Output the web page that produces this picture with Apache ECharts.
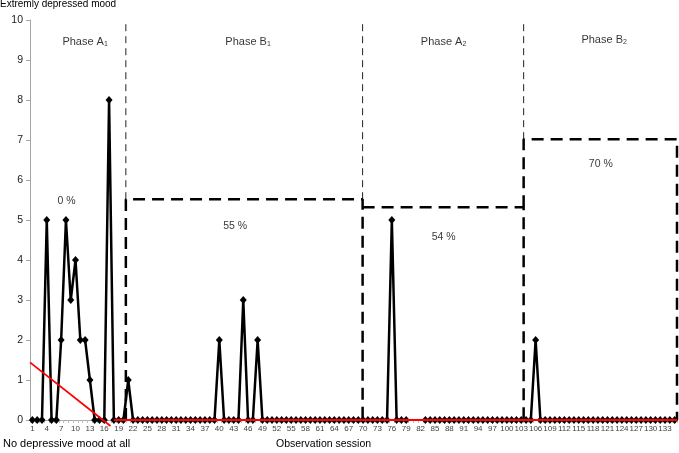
<!DOCTYPE html>
<html>
<head>
<meta charset="utf-8">
<script src="https://cdn.jsdelivr.net/npm/echarts@6/dist/echarts.min.js"></script>
<style>
  html, body { margin: 0; padding: 0; background: #fff; }
  #chart { width: 679px; height: 453px; }
</style>
</head>
<body>
<div id="chart"></div>
<script>
// observation sessions 1..135
var sessions = [];
for (var i = 1; i <= 135; i++) sessions.push(String(i));

// depressed mood score per session (null = not observed)
var mood = [
  0, 0, 0, 5, 0, 0, 2, 5, 3, 4,        // 1-10
  2, 2, 1, 0, 0, 0, 8, 0, 0, 0,        // 11-20
  1, 0, 0, 0, 0, 0, 0, 0, 0, 0,        // 21-30
  0, 0, 0, 0, 0, 0, 0, 0, 0, 2,        // 31-40
  0, 0, 0, 0, 3, 0, 0, 2, 0, 0,        // 41-50
  0, 0, 0, 0, 0, 0, 0, 0, 0, 0,        // 51-60
  0, 0, 0, 0, 0, 0, 0, 0, 0, 0,        // 61-70
  0, 0, 0, 0, 0, 5, 0, 0, 0, null,     // 71-80
  null, null, 0, 0, 0, 0, 0, 0, 0, 0,  // 81-90
  0, 0, 0, 0, 0, 0, 0, 0, 0, 0,        // 91-100
  0, 0, 0, 0, 0, 2, 0, 0, 0, 0,        // 101-110
  0, 0, 0, 0, 0, 0, 0, 0, 0, 0,        // 111-120
  0, 0, 0, 0, 0, 0, 0, 0, 0, 0,        // 121-130
  0, 0, 0, 0, 0                        // 131-135
];

// phase boundaries (in session units) and dashed box heights B1, A2, B2
var phaseEdges = [20.5, 69.9, 103.5, 135.5];
var boxTops = [5.52, 5.32, 7.02];

// red trend lines
var trendA1 = [[0.5, 1.44], [17.3, -0.15]];
var trendRest = [[18, 0], [135.5, 0]];

// annotations
var phaseNames = ['Phase A{s|1}', 'Phase B{s|1}', 'Phase A{s|2}', 'Phase B{s|2}'];
var phasePos = [[12, 9.45], [46, 9.45], [86.8, 9.45], [120.3, 9.5]];
var percentText = ['0 %', '55 %', '54 %', '70 %'];
var percentPos = [[8.1, 5.46], [43.3, 4.85], [86.8, 4.57], [119.6, 6.4]];

var FONT = 'Liberation Sans';

var e = phaseEdges, t = boxTops;
var thick = { color: '#000', width: 2.5, type: [12, 7] };
var thin = { color: '#222', width: 1, type: [7, 5] };

function seg(data, style) {
  return {
    type: 'line', xAxisIndex: 1, data: data, symbol: 'none', silent: true,
    lineStyle: style, z: 2, animation: false
  };
}

function labels(names, pos, size) {
  return {
    type: 'scatter', xAxisIndex: 1, symbolSize: 0, silent: true, z: 5,
    data: pos.map(function (p, k) { return { name: names[k], value: p }; }),
    label: {
      show: true, position: 'inside', formatter: '{b}',
      fontFamily: FONT, fontSize: size, color: '#000',
      rich: {
        s: { fontFamily: FONT, fontSize: 7, lineHeight: 6, verticalAlign: 'bottom', color: '#000' }
      }
    }
  };
}

var chart = echarts.init(document.getElementById('chart'));
chart.setOption({
  animation: false,
  textStyle: { fontFamily: FONT },
  title: [
    { text: 'Extremly depressed mood', left: 0, top: -1, padding: 0,
      textStyle: { fontFamily: FONT, fontSize: 10, fontWeight: 'normal', color: '#000' } },
    { text: 'No depressive mood at all', left: 3, top: 438, padding: 0,
      textStyle: { fontFamily: FONT, fontSize: 11, fontWeight: 'normal', color: '#000' } },
    { text: 'Observation session', left: 276, top: 439, padding: 0,
      textStyle: { fontFamily: FONT, fontSize: 10.5, fontWeight: 'normal', color: '#000' } }
  ],
  grid: { left: 30, right: 2, top: 20, bottom: 33 },
  xAxis: [{
    type: 'category', data: sessions, boundaryGap: true,
    axisLine: { lineStyle: { color: '#a6a6a6' } },
    axisTick: { show: true, interval: 0, length: 3, lineStyle: { color: '#bdbdbd' } },
    axisLabel: { interval: 2, fontFamily: FONT, fontSize: 8, color: '#404040', margin: 5 }
  }, {
    type: 'value', min: 0.5, max: 135.5, show: false
  }],
  yAxis: {
    type: 'value', min: 0, max: 10, interval: 1,
    axisLine: { show: true, lineStyle: { color: '#a6a6a6' } },
    axisTick: { show: true, length: 4, lineStyle: { color: '#a6a6a6' } },
    splitLine: { show: false },
    axisLabel: { fontFamily: FONT, fontSize: 10.5, color: '#222', margin: 7 }
  },
  series: [
    seg([[e[0], 0], [e[0], t[0]], [e[1], t[0]], [e[1], 0]], thick),
    seg([[e[1], t[1]], [e[2], t[1]], [e[2], 0]], thick),
    seg([[e[2], t[1]], [e[2], t[2]], [e[3], t[2]], [e[3], 0]], thick),
    seg([[e[0], t[0]], [e[0], 10]], thin),
    seg([[e[1], t[0]], [e[1], 10]], thin),
    seg([[e[2], t[2]], [e[2], 10]], thin),
    {
      type: 'line', data: mood, connectNulls: false, z: 3,
      symbol: 'diamond', symbolSize: [7, 8], showAllSymbol: true,
      lineStyle: { color: '#000', width: 2.5 },
      itemStyle: { color: '#000' }
    },
    {
      type: 'line', xAxisIndex: 1, data: trendA1, symbol: 'none', clip: false, z: 4,
      lineStyle: { color: '#ff0000', width: 1.8 }
    },
    {
      type: 'line', xAxisIndex: 1, data: trendRest, symbol: 'none', clip: false, z: 4,
      lineStyle: { color: '#ff0000', width: 2 }
    },
    labels(phaseNames, phasePos, 11),
    labels(percentText, percentPos, 10.5)
  ]
});
</script>
</body>
</html>
